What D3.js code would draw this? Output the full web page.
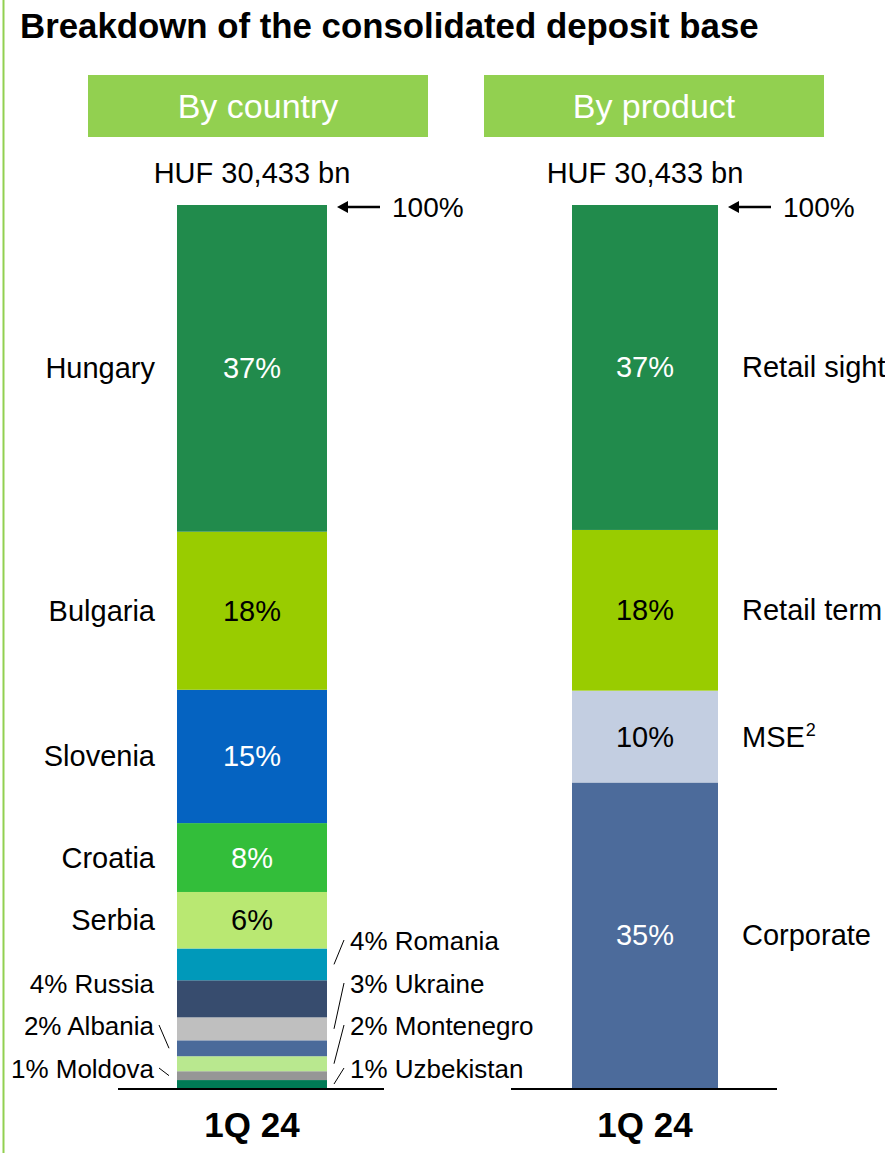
<!DOCTYPE html>
<html>
<head>
<meta charset="utf-8">
<script src="https://cdn.jsdelivr.net/npm/d3@7"></script>
<style>
  html, body { margin: 0; padding: 0; background: #fff; }
  svg { display: block; font-family: "Liberation Sans", Arial, sans-serif; }
</style>
</head>
<body>
<svg id="chart" width="885" height="1153"></svg>
<script>
// Deposit base by country (bottom of the stack first), % of total
const countries = ["Uzbekistan", "Moldova", "Montenegro", "Albania", "Ukraine", "Russia",
                   "Romania", "Serbia", "Croatia", "Slovenia", "Bulgaria", "Hungary"];
const countryShares = [0.9, 1.0, 1.7, 1.8, 2.6, 4.2, 3.6, 6.4, 7.8, 15.1, 17.9, 37.0];
const countryColors = ["#007a55", "#969696", "#b9e88f", "#4a6a9a", "#bfbfbf", "#374c6e",
                       "#0099ba", "#b9e872", "#33be3a", "#0563c1", "#99cc00", "#218b4c"];

// Deposit base by product (bottom of the stack first), % of total
const products = ["Corporate", "MSE", "Retail term", "Retail sight"];
const productShares = [34.6, 10.4, 18.2, 36.8];
const productColors = ["#4c6b9b", "#c3cee1", "#99cc00", "#218b4c"];

const panels = ["By country", "By product"];
const totalLabel = "HUF 30,433 bn";
const periodLabel = "1Q 24";

// Big segments carry their value inside the bar and the name on one side;
// small ones get an outside "x% Name" label with a leader line.
const insideCountries = ["Hungary", "Bulgaria", "Slovenia", "Croatia", "Serbia"];
const darkText = ["Bulgaria", "Serbia", "Retail term", "MSE"];
const countryOutside = {
  Romania:    { side: "right", row: 0 },
  Ukraine:    { side: "right", row: 1 },
  Montenegro: { side: "right", row: 2 },
  Uzbekistan: { side: "right", row: 3 },
  Russia:     { side: "left",  row: 1 },
  Albania:    { side: "left",  row: 2 },
  Moldova:    { side: "left",  row: 3 }
};

const svg = d3.select("#chart");
const fmt = v => d3.format(".0f")(v) + "%";

const y = d3.scaleLinear().domain([0, 100]).range([1088, 205]);
const xCenter = d3.scalePoint().domain(panels).range([252, 645]);
const barW = { "By country": 150, "By product": 146 };
const headerCenter = { "By country": 258, "By product": 654 };

const LABEL = 29;

// Left frame rule
svg.append("line").attr("x1", 3.5).attr("x2", 3.5).attr("y1", 0).attr("y2", 1153)
  .attr("stroke", "#92d050").attr("stroke-width", 2);

// Title
svg.append("text").attr("x", 20).attr("y", 38)
  .attr("font-size", 34.8).attr("font-weight", "bold").attr("fill", "#000")
  .text("Breakdown of the consolidated deposit base");

// Panel headers, totals, 100% markers, baselines and period labels
panels.forEach(p => {
  const cx = xCenter(p);
  const hx = headerCenter[p];
  svg.append("rect").attr("x", hx - 170).attr("y", 75).attr("width", 340).attr("height", 62)
    .attr("fill", "#92d050");
  svg.append("text").attr("x", hx).attr("y", 118).attr("text-anchor", "middle")
    .attr("font-size", 34).attr("fill", "#fff").text(p);
  svg.append("text").attr("x", cx).attr("y", 183).attr("text-anchor", "middle")
    .attr("font-size", 29).attr("fill", "#000").text(totalLabel);

  const right = cx + barW[p] / 2;
  svg.append("line").attr("x1", right + 14).attr("x2", right + 53).attr("y1", y(100) + 2).attr("y2", y(100) + 2)
    .attr("stroke", "#000").attr("stroke-width", 2.5);
  svg.append("path")
    .attr("d", `M${right + 10},${y(100) + 2} l11,-6 l0,12 z`).attr("fill", "#000");
  svg.append("text").attr("x", right + 65).attr("y", y(100) + 12)
    .attr("font-size", 28).attr("fill", "#000").text("100%");

  svg.append("line").attr("x1", cx - 134).attr("x2", cx + 132)
    .attr("y1", y(0) + 1).attr("y2", y(0) + 1).attr("stroke", "#000").attr("stroke-width", 2);

  svg.append("text").attr("x", cx).attr("y", 1137).attr("text-anchor", "middle")
    .attr("font-size", 35).attr("font-weight", "bold").attr("fill", "#000").text(periodLabel);
});

function stackSegments(names, shares, colors) {
  let acc = 0;
  return names.map((n, i) => {
    const d = { name: n, value: shares[i], color: colors[i], y0: acc, y1: acc + shares[i] };
    acc += shares[i];
    return d;
  });
}
const mid = d => (y(d.y0) + y(d.y1)) / 2;

// ---- By country ----
const cPanel = "By country";
const cx0 = xCenter(cPanel) - barW[cPanel] / 2;
const cSegs = stackSegments(countries, countryShares, countryColors);
const gC = svg.append("g");
gC.selectAll("rect").data(cSegs).join("rect")
  .attr("x", cx0).attr("width", barW[cPanel])
  .attr("y", d => y(d.y1)).attr("height", d => y(d.y0) - y(d.y1))
  .attr("fill", d => d.color);

const cInside = cSegs.filter(d => insideCountries.includes(d.name));
gC.selectAll("text.val").data(cInside).join("text").attr("class", "val")
  .attr("x", xCenter(cPanel)).attr("y", d => mid(d) + 10)
  .attr("text-anchor", "middle").attr("font-size", LABEL)
  .attr("fill", d => darkText.includes(d.name) ? "#000" : "#fff")
  .text(d => fmt(d.value));
gC.selectAll("text.name").data(cInside).join("text").attr("class", "name")
  .attr("x", 155).attr("y", d => mid(d) + 10)
  .attr("text-anchor", "end").attr("font-size", LABEL).attr("fill", "#000")
  .text(d => d.name);

// Outside labels, stacked in rows below Serbia
const rowY = [941, 984, 1026, 1069];
cSegs.filter(d => countryOutside[d.name]).forEach(d => {
  const o = countryOutside[d.name];
  const ty = rowY[o.row];
  const right = o.side === "right";
  svg.append("text").attr("x", right ? 350 : 154).attr("y", ty + 9)
    .attr("text-anchor", right ? "start" : "end")
    .attr("font-size", 26).attr("fill", "#000")
    .text(fmt(d.value) + " " + d.name);
  if (d.name === "Russia") return;
  const lx1 = right ? 344 : 159, lx2 = right ? 334 : 169;
  const ly2 = right ? Math.min(mid(d), y(0) - 2) : mid(d);
  svg.append("line").attr("x1", lx1).attr("y1", ty - 1).attr("x2", lx2).attr("y2", ly2)
    .attr("stroke", "#000").attr("stroke-width", 1);
});

// ---- By product ----
const pPanel = "By product";
const px0 = xCenter(pPanel) - barW[pPanel] / 2;
const pSegs = stackSegments(products, productShares, productColors);
const gP = svg.append("g");
gP.selectAll("rect").data(pSegs).join("rect")
  .attr("x", px0).attr("width", barW[pPanel])
  .attr("y", d => y(d.y1)).attr("height", d => y(d.y0) - y(d.y1))
  .attr("fill", d => d.color);
gP.selectAll("text.val").data(pSegs).join("text").attr("class", "val")
  .attr("x", xCenter(pPanel)).attr("y", d => mid(d) + 10)
  .attr("text-anchor", "middle").attr("font-size", LABEL)
  .attr("fill", d => darkText.includes(d.name) ? "#000" : "#fff")
  .text(d => fmt(d.value));
const pNames = gP.selectAll("text.name").data(pSegs).join("text").attr("class", "name")
  .attr("x", 742).attr("y", d => mid(d) + 10)
  .attr("font-size", LABEL).attr("fill", "#000")
  .text(d => d.name);
pNames.filter(d => d.name === "MSE").append("tspan")
  .attr("font-size", 18).attr("dx", 1).attr("dy", -11).text("2");
</script>
</body>
</html>
